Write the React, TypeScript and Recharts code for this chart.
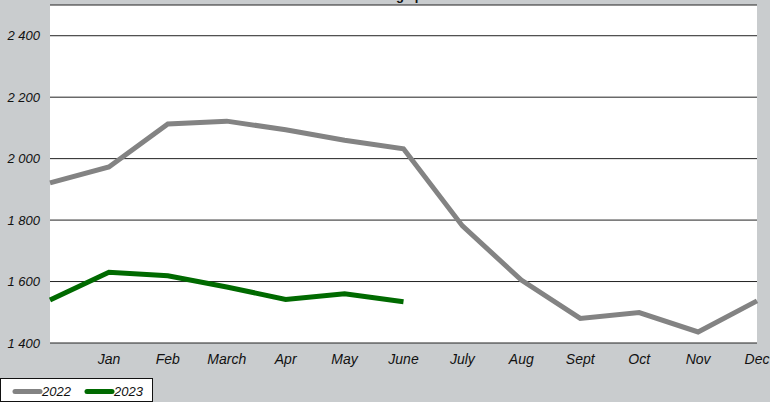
import React from "react";
import { LineChart, Line, XAxis, YAxis, CartesianGrid } from "recharts";

const months = ["", "Jan", "Feb", "March", "Apr", "May", "June", "July", "Aug", "Sept", "Oct", "Nov", "Dec"];
const values2022 = [1921, 1973, 2113, 2122, 2094, 2060, 2032, 1781, 1605, 1480, 1499, 1436, 1537];
const values2023 = [1540, 1630, 1619, 1582, 1542, 1560, 1534];
const yTicks = [1400, 1600, 1800, 2000, 2200, 2400];

const data = months.map((m, i) => ({
  month: m,
  y2022: values2022[i],
  y2023: i < values2023.length ? values2023[i] : null,
}));

const fmt = (v: number) => {
  const s = String(v);
  return s.length > 3 ? s.slice(0, s.length - 3) + " " + s.slice(-3) : s;
};

const font = "'Liberation Sans', Arial, sans-serif";

export default function App() {
  return (
    <div style={{ position: "absolute", left: 0, top: 0, width: 770, height: 402, background: "#c9ccce", overflow: "hidden", fontFamily: font }}>
      <LineChart width={770} height={402} data={data} margin={{ top: 5, right: 13, left: 0, bottom: 24 }}>
        <CartesianGrid horizontal={true} vertical={false} stroke="#222" strokeOpacity={1} fill="#ffffff" />
        <XAxis
          dataKey="month"
          axisLine={false}
          tickLine={false}
          interval={0}
          height={35}
          padding={{ left: 0, right: 0 }}
          tick={{ fill: "#111", fontSize: 14, fontStyle: "italic", fontFamily: font }}
          tickMargin={5}
        />
        <YAxis
          domain={[1400, 2500]}
          ticks={yTicks}
          width={50}
          axisLine={false}
          tickLine={false}
          tickFormatter={fmt}
          tick={{ fill: "#111", fontSize: 13, fontStyle: "italic", fontFamily: font }}
          tickMargin={4}
        />
        <Line type="linear" dataKey="y2022" stroke="#838383" strokeWidth={5} dot={false} isAnimationActive={false} />
        <Line type="linear" dataKey="y2023" stroke="#006a00" strokeWidth={5} dot={false} isAnimationActive={false} connectNulls={false} />
        <text x={403} y={-0.5} textAnchor="middle" fontSize={13} fontWeight="bold" fontFamily={font} fill="#111">
          Average price
        </text>
      </LineChart>
      <div style={{ position: "absolute", left: 0, top: 378, width: 153, height: 24, background: "#fff", border: "1px solid #111", boxSizing: "border-box" }}>
        <svg width={153} height={24} style={{ position: "absolute", left: 0, top: 0 }}>
          <line x1={14} y1={12.5} x2={39} y2={12.5} stroke="#838383" strokeWidth={5} strokeLinecap="round" />
          <text x={41} y={17} fontSize={13} fontStyle="italic" fontFamily={font} fill="#111">2022</text>
          <line x1={86} y1={12.5} x2={111} y2={12.5} stroke="#006a00" strokeWidth={5} strokeLinecap="round" />
          <text x={113} y={17} fontSize={13} fontStyle="italic" fontFamily={font} fill="#111">2023</text>
        </svg>
      </div>
    </div>
  );
}
